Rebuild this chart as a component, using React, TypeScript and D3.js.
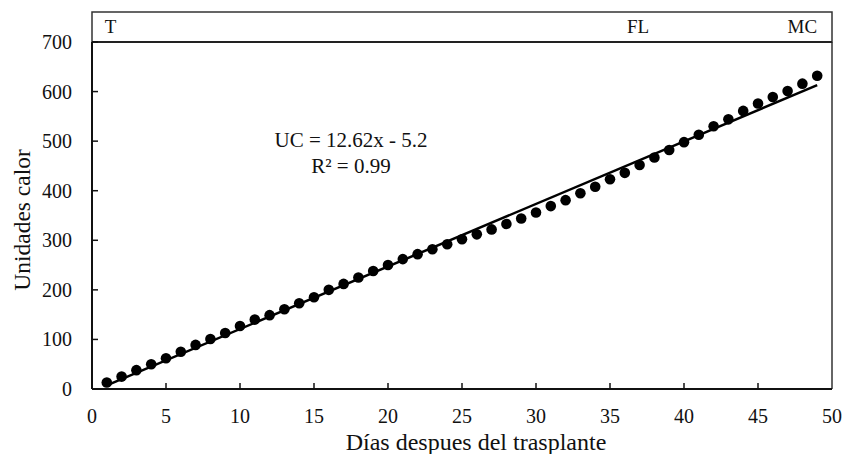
import React from "react";
import * as d3 from "d3";

const days: number[] = Array.from({ length: 49 }, (_, i) => i + 1);
const heatUnits: number[] = [
  13, 25, 38, 50, 62, 75, 89, 101, 113, 127,
  140, 149, 161, 173, 185, 200, 212, 225, 238, 250,
  262, 272, 282, 292, 302, 312, 322, 333, 344, 356,
  369, 381, 395, 408, 423, 436, 452, 467, 482, 498,
  513, 530, 544, 561, 576, 589, 601, 616, 632,
];
const xTicks: number[] = [0, 5, 10, 15, 20, 25, 30, 35, 40, 45, 50];
const yTicks: number[] = [0, 100, 200, 300, 400, 500, 600, 700];
const stageLabels: string[] = ["T", "FL", "MC"];
const stageDays: number[] = [1.25, 36.9, 48.0];
const slope = 12.62;
const intercept = -5.2;
const eqLine1 = "UC = 12.62x - 5.2";
const eqLine2 = "R² = 0.99";
const xTitle = "Días despues del trasplante";
const yTitle = "Unidades calor";

const W = 846;
const H = 454;
const FONT = '"Liberation Serif", "Times New Roman", Times, serif';

export default function App() {
  const x = d3.scaleLinear().domain([0, 50]).range([92, 832]);
  const y = d3.scaleLinear().domain([0, 700]).range([389, 42]);
  const bandTop = 12;
  const line = d3
    .line<number>()
    .x((d) => x(d))
    .y((d) => y(slope * d + intercept));
  const x0 = x(0), x1 = x(50), y0 = y(0), y1 = y(700);
  const ts: React.CSSProperties = { fontFamily: FONT };
  return (
    <svg
      width={W}
      height={H}
      style={{ position: "absolute", left: 0, top: 0, background: "#fff", fontFamily: FONT }}
    >
      <rect x={0} y={0} width={W} height={H} fill="#fff" />
      {/* stage band */}
      <rect x={x0} y={bandTop} width={x1 - x0} height={y1 - bandTop} fill="none" stroke="#333" strokeWidth={1.5} />
      {stageLabels.map((s, i) => (
        <text key={s} style={ts} x={x(stageDays[i])} y={33} fontSize={19} textAnchor="middle" fill="#111">
          {s}
        </text>
      ))}
      {/* frame */}
      <line x1={x1} x2={x1} y1={y1} y2={y0} stroke="#333" strokeWidth={1.5} />
      <line x1={x0} x2={x1} y1={y1} y2={y1} stroke="#222" strokeWidth={2} />
      <line x1={x0} x2={x0} y1={y1} y2={y0} stroke="#111" strokeWidth={2} />
      <line x1={x0} x2={x1} y1={y0} y2={y0} stroke="#111" strokeWidth={2} />
      {/* ticks */}
      {xTicks.map((t) => (
        <g key={"x" + t}>
          {t > 0 && t < 50 && <line x1={x(t)} x2={x(t)} y1={y0} y2={y0 - 6} stroke="#111" strokeWidth={1.5} />}
          <text style={ts} x={x(t)} y={423} fontSize={20} textAnchor="middle" fill="#111">
            {t}
          </text>
        </g>
      ))}
      {yTicks.map((t) => (
        <g key={"y" + t}>
          {t > 0 && <line x1={x0} x2={x0 + 6} y1={y(t)} y2={y(t)} stroke="#111" strokeWidth={1.5} />}
          <text style={ts} x={72} y={y(t) + 7} fontSize={20} textAnchor="end" fill="#111">
            {t}
          </text>
        </g>
      ))}
      {/* trend line */}
      <path d={line([1, 49]) || ""} fill="none" stroke="#000" strokeWidth={2.5} />
      {/* points */}
      {days.map((d, i) => (
        <circle key={d} cx={x(d)} cy={y(heatUnits[i])} r={5.3} fill="#000" />
      ))}
      {/* equation */}
      <text style={ts} x={351} y={147} fontSize={21} textAnchor="middle" fill="#111">
        {eqLine1}
      </text>
      <text style={ts} x={351} y={173} fontSize={21} textAnchor="middle" fill="#111">
        {eqLine2}
      </text>
      {/* axis titles */}
      <text style={ts} x={476} y={450} fontSize={24} textAnchor="middle" fill="#111">
        {xTitle}
      </text>
      <text
        style={ts}
        transform={`translate(30,220) rotate(-90)`}
        fontSize={23.5}
        textAnchor="middle"
        fill="#111"
      >
        {yTitle}
      </text>
    </svg>
  );
}
